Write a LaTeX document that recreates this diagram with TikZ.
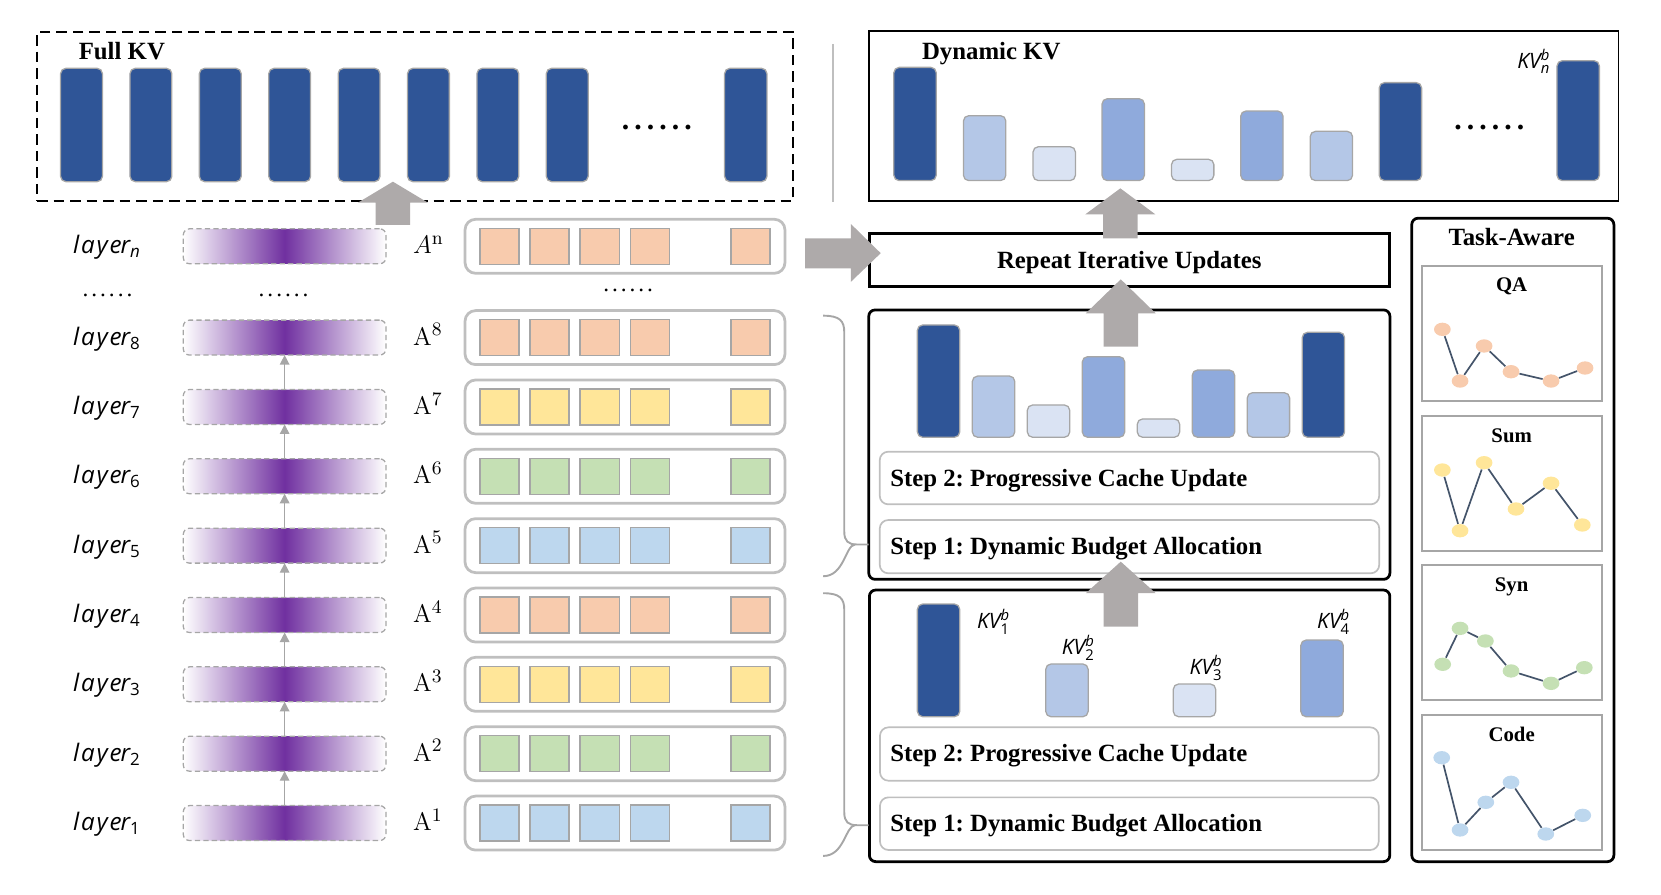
\documentclass[tikz,border=0pt]{standalone}
\usepackage{amsmath}
\usepackage[no-math]{fontspec}
\setmainfont{Liberation Serif}
\newfontfamily\labfont{Open Sans}
\newfontfamily\layfont{Open Sans}[LetterSpace=8]
\usetikzlibrary{arrows.meta,shapes.geometric,calc}
\definecolor{kvdark}{HTML}{2F5597}
\definecolor{kvmed}{HTML}{8FAADC}
\definecolor{kvlight}{HTML}{B4C7E7}
\definecolor{kvvlight}{HTML}{DAE3F3}
\definecolor{bargray}{HTML}{A6A6A6}
\definecolor{arrowgray}{HTML}{AEAAAA}
\definecolor{boxgray}{HTML}{BFBFBF}
\definecolor{cOr}{HTML}{F8CBAD}
\definecolor{cYe}{HTML}{FFE699}
\definecolor{cGr}{HTML}{C5E0B4}
\definecolor{cBl}{HTML}{BDD7EE}
\definecolor{purp}{HTML}{7030A0}
\definecolor{chartline}{HTML}{44546A}
\newcommand{\laytxt}[1]{{\layfont\itshape laye\kern-0.6pt r}$_{\text{\labfont #1}}$}
\newcommand{\kvtxt}[1]{{\labfont\itshape KV}${}^{\text{\labfont\itshape b}}_{\text{\labfont #1}}$}
\newcommand{\bigdots}{.\kern2.4pt.\kern2.4pt.\kern2.4pt.\kern2.4pt.\kern2.4pt.}
\newcommand{\smalldots}{.\kern1.4pt.\kern1.4pt.\kern1.4pt.\kern1.4pt.\kern1.4pt.}
\newcommand{\blockup}[4]{\fill[arrowgray] (#1,#2) -- (#1+33,#3) -- (#1+16.3,#3) -- (#1+16.3,#4) -- (#1-16.3,#4) -- (#1-16.3,#3) -- (#1-33,#3) -- cycle;}
\tikzset{
  bigfont/.style={font=\fontsize{11.7}{14}\selectfont\bfseries},
  subfont/.style={font=\fontsize{9.8}{12}\selectfont\bfseries},
  laylab/.style={font=\fontsize{11.4}{13}\selectfont, inner sep=0, anchor=base west},
  alab/.style={font=\fontsize{12.6}{14}\selectfont, inner sep=0, anchor=base west},
  kvlab/.style={font=\fontsize{10}{12}\selectfont, inner sep=0, anchor=base west},
  steptext/.style={bigfont, inner sep=0, anchor=base west},
  plainbox/.style={inner sep=0, outer sep=0, anchor=north west},
  kvbar/.style={draw=bargray, line width=0.6pt, rounded corners=2.5pt},
  layerbar/.style={draw=bargray, line width=0.6pt, dash pattern=on 2.5pt off 1.5pt,
     rounded corners=3pt, left color=white, right color=white, middle color=purp,
     minimum width=95.7pt, minimum height=16.5pt, inner sep=0, outer sep=0},
  arow/.style={draw=boxgray, line width=1.3pt, rounded corners=5pt,
     minimum width=151pt, minimum height=25.5pt, inner sep=0, outer sep=0},
  sq/.style={draw=bargray, line width=0.7pt},
  stepbox/.style={plainbox, draw=boxgray, line width=0.8pt, rounded corners=4pt},
  grpbox/.style={plainbox, draw=black, line width=1.3pt, rounded corners=3pt},
  chartbox/.style={plainbox, draw=bargray, line width=1pt, minimum width=85.3pt, minimum height=63.6pt},
  dotmark/.style={ellipse, inner sep=0, minimum width=7.9pt, minimum height=6.3pt, draw=none},
  chartl/.style={draw=chartline, line width=0.8pt},
  thinarrow/.style={draw=bargray, line width=0.6pt, -{Triangle[width=4.5pt,length=4.5pt]}},
  bracel/.style={draw=bargray, line width=0.9pt},
}
\begin{document}
\frenchspacing
\begin{tikzpicture}[x=0.5pt,y=-0.5pt]
\useasboundingbox (0,0) rectangle (1568,844);

% ---------------- Full KV ----------------
\node[plainbox, draw=black, line width=1pt, dash pattern=on 5pt off 2.8pt,
      minimum width=357pt, minimum height=80pt] (fullkv) at (35,30) {};
\node[bigfont, inner sep=0, anchor=base west] (fulllab) at (74,56) {Full KV};
\foreach \i in {0,...,7}
  \draw[kvbar, fill=kvdark] ({57.2+65.5*\i},64.5) rectangle ({96.7+65.5*\i},171.5);
\draw[kvbar, fill=kvdark] (684,64.5) rectangle (724,171.5);
\node[font=\fontsize{14}{16}\selectfont\bfseries, inner sep=0, anchor=base] (fdots) at (620,122) {\bigdots};

% separator
\draw[boxgray, line width=1pt] (786.4,41.5) -- (786.4,190.4);

% ---------------- Dynamic KV ----------------
\node[plainbox, draw=black, line width=0.8pt, minimum width=353.7pt, minimum height=80.5pt] (dynkv) at (820.6,29) {};
\node[bigfont, inner sep=0, anchor=base west] (dynlab) at (870,56) {Dynamic KV};
\foreach \bx/\bt/\bc in {843.8/63.6/kvdark, 909.5/109.2/kvlight, 975.2/138.5/kvvlight,
   1040.3/93.2/kvmed, 1105.9/150.4/kvvlight, 1171.2/104.8/kvmed, 1236.8/124/kvlight,
   1302/78/kvdark, 1469.8/57.3/kvdark}
  \draw[kvbar, fill=\bc] (\bx,\bt) rectangle (\bx+40,170.5);
\node[font=\fontsize{14}{16}\selectfont\bfseries, inner sep=0, anchor=base] (ddots) at (1406,122) {\bigdots};
\node[kvlab] (kvn) at (1432,64.5) {\kvtxt{\itshape n}};

% ---------------- Repeat ----------------
\node[plainbox, draw=black, line width=1.3pt, minimum width=245.6pt, minimum height=25.15pt] (repeat) at (820.6,220.3) {};
\node[bigfont, inner sep=0, anchor=base] (reptxt) at (1066,253.3) {Repeat Iterative Updates};

% ---------------- Upper group ----------------
\node[grpbox, minimum width=246pt, minimum height=127.15pt] (upgrp) at (820.1,292.6) {};
\foreach \k/\bt/\bc in {0/306.8/kvdark, 1/355/kvlight, 2/382.3/kvvlight, 3/336.7/kvmed,
   4/395.5/kvvlight, 5/349.3/kvmed, 6/370.7/kvlight, 7/313.7/kvdark}
  \draw[kvbar, fill=\bc] ({866+51.9*\k},\bt) rectangle ({906+51.9*\k},412.8);
\node[stepbox, minimum width=235.75pt, minimum height=24.85pt] (upstep2) at (830.5,426.4) {};
\node[stepbox, minimum width=235.75pt, minimum height=25.15pt] (upstep1) at (830.5,490.9) {};
\node[steptext] (upt2) at (840,458.8) {Step 2: Progressive Cache Update};
\node[steptext] (upt1) at (840,523.9) {Step 1: Dynamic Budget Allocation};

% ---------------- Lower group ----------------
\node[grpbox, minimum width=245.65pt, minimum height=128.2pt] (lowgrp) at (820.7,557) {};
\foreach \bx/\bt/\bc in {866/570.2/kvdark, 987.2/626.8/kvlight, 1107.6/645.7/kvvlight, 1228/604.2/kvmed}
  \draw[kvbar, fill=\bc] (\bx,\bt) rectangle (\bx+40,676.6);
\node[kvlab] (kv1) at (922,593) {\kvtxt{1}};
\node[kvlab] (kv2) at (1002,617.4) {\kvtxt{2}};
\node[kvlab] (kv3) at (1122.7,636.3) {\kvtxt{3}};
\node[kvlab] (kv4) at (1243,593) {\kvtxt{4}};
\node[stepbox, minimum width=235.4pt, minimum height=25.2pt] (lowstep2) at (830.7,686.6) {};
\node[stepbox, minimum width=235.4pt, minimum height=24.85pt] (lowstep1) at (830.7,752.7) {};
\node[steptext] (lowt2) at (840,719) {Step 2: Progressive Cache Update};
\node[steptext] (lowt1) at (840,785.1) {Step 1: Dynamic Budget Allocation};

% braces
\draw[bracel] (777,298) .. controls (793,298) and (797,303) .. (797,314) -- (797,502)
   .. controls (797,511) and (801,514) .. (809,514) -- (820,514);
\draw[bracel] (807,514) .. controls (798,515) and (797,544) .. (777,544);
\draw[bracel] (777,560) .. controls (793,560) and (797,565) .. (797,576) -- (797,767)
   .. controls (797,776) and (801,779) .. (809,779) -- (820,779);
\draw[bracel] (807,779) .. controls (798,780) and (797,808) .. (777,808);

% ---------------- Task-Aware ----------------
\node[grpbox, minimum width=95.4pt, minimum height=303.7pt] (task) at (1332.7,206) {};
\node[bigfont, inner sep=0, anchor=base] (tasklab) at (1427,231.3) {Task-Aware};
\node[chartbox] (qabox) at (1342,251.1) {};
\node[chartbox] (sumbox) at (1342,392.7) {};
\node[chartbox] (synbox) at (1342,533.4) {};
\node[chartbox] (codebox) at (1342,675) {};
\node[subfont, inner sep=0, anchor=base] (qalab) at (1427,275.3) {QA};
\node[subfont, inner sep=0, anchor=base] (sumlab) at (1427,417.6) {Sum};
\node[subfont, inner sep=0, anchor=base] (synlab) at (1427,558.6) {Syn};
\node[subfont, inner sep=0, anchor=base] (codelab) at (1427,700.2) {Code};

\foreach \k/\ptx/\pty in {1/1361.6/310.9, 2/1378.3/359.7, 3/1401/326.6, 4/1426.4/350.9, 5/1464.2/359.7, 6/1496.3/347.4}
  \node[dotmark, fill=cOr] (qa\k) at (\ptx,\pty) {};
\draw[chartl] (qa1) -- (qa2) -- (qa3) -- (qa4) -- (qa5) -- (qa6);
\foreach \k/\ptx/\pty in {1/1361.6/443.7, 2/1378.3/501, 3/1401/436.8, 4/1431.1/480.5, 5/1464.2/456.2, 6/1493.7/495.6}
  \node[dotmark, fill=cYe] (su\k) at (\ptx,\pty) {};
\draw[chartl] (su1) -- (su2) -- (su3) -- (su4) -- (su5) -- (su6);
\foreach \k/\ptx/\pty in {1/1361.9/627.1, 2/1378.3/593.2, 3/1402.2/605.1, 4/1426.4/633.4, 5/1464.2/645.1, 6/1495.6/630.3}
  \node[dotmark, fill=cGr] (sy\k) at (\ptx,\pty) {};
\draw[chartl] (sy1) -- (sy2) -- (sy3) -- (sy4) -- (sy5) -- (sy6);
\foreach \k/\ptx/\pty in {1/1361/715.3, 2/1378.3/783.5, 3/1402.6/757.4, 4/1426.4/738.5, 5/1459.2/787.3, 6/1494.1/769.7}
  \node[dotmark, fill=cBl] (co\k) at (\ptx,\pty) {};
\draw[chartl] (co1) -- (co2) -- (co3) -- (co4) -- (co5) -- (co6);

% ---------------- Layers ----------------
\foreach \i/\cy/\col in {1/777/cBl, 2/711.5/cGr, 3/646/cYe, 4/580.6/cOr, 5/515.1/cBl, 6/449.6/cGr, 7/384.2/cYe, 8/318.7/cOr}{
  \node[laylab] (lab\i) at (68.6,\cy+7) {\laytxt{\i}};
  \node[layerbar] (L\i) at (268.7,\cy) {};
  \node[alab] (A\i) at (389.6,\cy+7) {$\mathrm{A}^{\i}$};
  \node[arow] (R\i) at (590,\cy) {};
  \foreach \sx in {453,500.3,547.6,595,690}
    \draw[sq, fill=\col] (\sx,\cy-17) rectangle (\sx+37,\cy+17);
}
\node[laylab] (labn) at (68.6,239.5) {\laytxt{\itshape n}};
\node[layerbar] (Ln) at (268.7,232.5) {};
\node[alab] (An) at (389.6,239.5) {$A^{\mathrm{n}}$};
\node[arow] (Rn) at (590,232.5) {};
\foreach \sx in {453,500.3,547.6,595,690}
  \draw[sq, fill=cOr] (\sx,215.5) rectangle (\sx+37,249.5);
\node[font=\fontsize{11}{13}\selectfont, inner sep=0, anchor=base] (dl1) at (101.5,280) {\smalldots};
\node[font=\fontsize{11}{13}\selectfont, inner sep=0, anchor=base] (dl2) at (267.7,280) {\smalldots};
\node[font=\fontsize{11}{13}\selectfont, inner sep=0, anchor=base] (dl3) at (593,275.3) {\smalldots};

\foreach \i [evaluate=\i as \j using int(\i+1)] in {1,...,7}
  \draw[thinarrow] (L\i.north) -- (L\j.south);

% ---------------- Block arrows ----------------
\blockup{370.9}{171.5}{191.3}{212.4}
\blockup{1057.6}{177.8}{202.3}{225}
\blockup{1058}{263.7}{295.8}{327.3}
\blockup{1058}{530.2}{560}{591.6}
\fill[arrowgray] (760,225) -- (803.3,225) -- (803.3,211.5) -- (831.4,239) -- (803.3,266) -- (803.3,253.3) -- (760,253.3) -- cycle;
\end{tikzpicture}
\end{document}
